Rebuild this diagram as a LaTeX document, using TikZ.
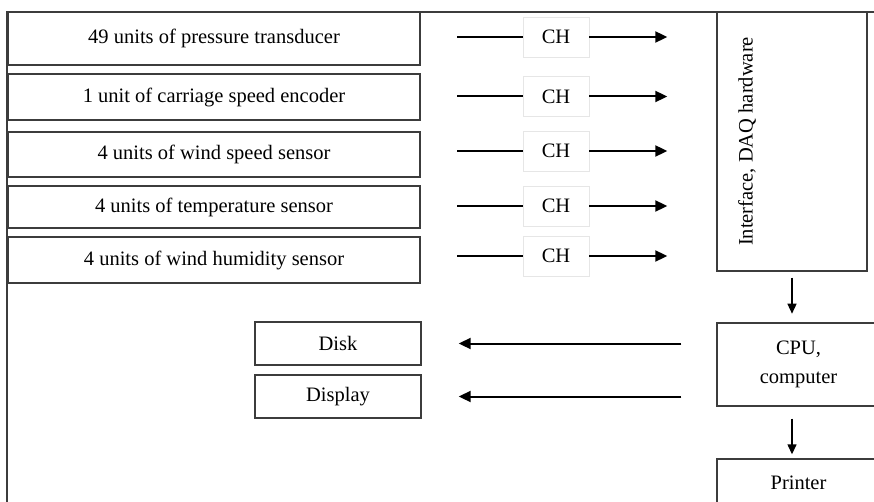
\documentclass[tikz,border=0pt]{standalone}
\usepackage{fontspec}
\setmainfont{Liberation Serif}
\usetikzlibrary{arrows.meta}
\definecolor{boxgray}{HTML}{3C3C3C}
\definecolor{chgray}{HTML}{E6E6E6}
\begin{document}
\begin{tikzpicture}[x=1pt,y=-1pt,
  box/.style={draw=boxgray, line width=1.4pt, fill=white, inner sep=0pt, font=\fontsize{20.5}{29}\selectfont, align=center},
  chbox/.style={draw=chgray, line width=0.6pt, fill=white, minimum width=66pt, minimum height=40pt, inner sep=0pt, font=\fontsize{20.5}{24}\selectfont},
  conn/.style={line width=2pt, black},
  harrow/.style={line width=2pt, black, -{Triangle[length=12pt,width=11pt]}},
  varrow/.style={line width=1.4pt, black, -{Triangle[length=10pt,width=9pt]}},
  framestyle/.style={draw=boxgray, line width=1.5pt}
]
\useasboundingbox (0,0) rectangle (874,502);
\clip (0,0) rectangle (874,502);
\fill[white] (0,0) rectangle (874,502);
% frame
\draw[framestyle] (7,510) -- (7,12) -- (880,12);
% sensor boxes
\node[box, minimum width=412pt, minimum height=53pt] (s1) at (214,38.5) {49 units of pressure transducer};
\node[box, minimum width=412pt, minimum height=46pt] (s2) at (214,97) {1 unit of carriage speed encoder};
\node[box, minimum width=412pt, minimum height=45pt] (s3) at (214,154.5) {4 units of wind speed sensor};
\node[box, minimum width=412pt, minimum height=42pt] (s4) at (214,207) {4 units of temperature sensor};
\node[box, minimum width=412pt, minimum height=46pt] (s5) at (214,260) {4 units of wind humidity sensor};
% interface
\node[box, minimum width=150pt, minimum height=259pt] (iface) at (792,141.5) {};
\node[rotate=90, font=\fontsize{20.5}{24}\selectfont, inner sep=0pt] (ifacetxt) at (747,141.5) {Interface, DAQ hardware};
% CH nodes and arrows
\foreach \i/\yy in {1/37,2/96.5,3/151,4/206,5/256}{
  \node[chbox] (ch\i) at (556,\yy) {CH};
  \coordinate (l\i) at (457,\yy);
  \draw[conn] (l\i) -- (ch\i.west);
  \draw[harrow] (ch\i.east) -- ([xshift=-49pt]ch\i.east -| iface.west);
}
% CPU, printer
\node[box, minimum width=163pt, minimum height=83pt] (cpu) at (798.5,364.5) {CPU,\\computer};
\node[box, minimum width=163pt, minimum height=48pt] (printer) at (798.5,483) {Printer};
\draw[varrow] ([yshift=-6pt]iface.south) -- ([yshift=-42pt]iface.south);
\draw[varrow] ([yshift=-12pt]cpu.south -| iface.south) -- ([yshift=4pt]printer.north -| iface.south);
% disk, display
\node[box, minimum width=166pt, minimum height=43pt] (disk) at (338,343.5) {Disk};
\node[box, minimum width=166pt, minimum height=43pt] (display) at (338,396.5) {Display};
\draw[harrow] ([xshift=-35pt]cpu.west |- disk.east) -- ([xshift=37pt]disk.east);
\draw[harrow] ([xshift=-35pt]cpu.west |- display.east) -- ([xshift=37pt]display.east);
\end{tikzpicture}
\end{document}
